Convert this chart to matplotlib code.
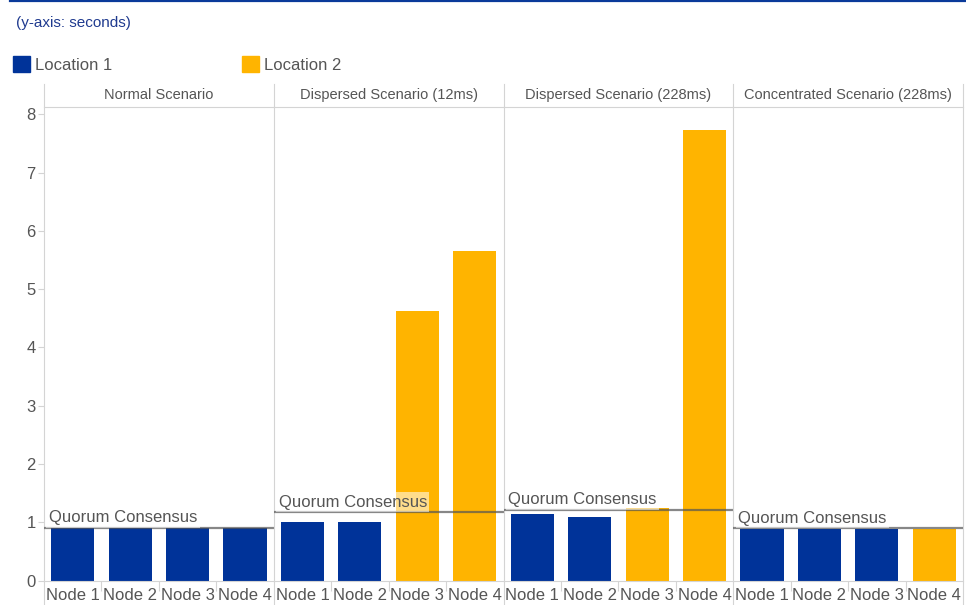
import matplotlib
matplotlib.use("Agg")
import matplotlib.pyplot as plt
from matplotlib.lines import Line2D
from matplotlib.patches import Rectangle

plt.rcParams['font.family'] = ['Liberation Sans', 'DejaVu Sans']

# data (seconds)
scenarios = ["Normal Scenario", "Dispersed Scenario (12ms)",
             "Dispersed Scenario (228ms)", "Concentrated Scenario (228ms)"]
nodes = ["Node 1", "Node 2", "Node 3", "Node 4"]
normal = [0.90, 0.90, 0.90, 0.90]
dispersed_12 = [1.00, 1.00, 4.63, 5.66]
dispersed_228 = [1.14, 1.10, 1.25, 7.73]
concentrated = [0.89, 0.89, 0.89, 0.89]
locations = [
    [1, 1, 1, 1],
    [1, 1, 2, 2],
    [1, 1, 2, 2],
    [1, 1, 1, 2],
]
quorum = [0.91, 1.17, 1.22, 0.90]
series = [normal, dispersed_12, dispersed_228, concentrated]

BLUE = "#003399"
ORANGE = "#FFB400"
GRID = "#d4d4d4"
TEXT = "#555555"
loc_colors = {1: BLUE, 2: ORANGE}

W, H = 966, 605
fig = plt.figure(figsize=(W / 100, H / 100), dpi=100)
fig.patch.set_facecolor("white")

# top rule + caption
fig.add_artist(Line2D([10 / W, 1], [1 - 1 / H, 1 - 1 / H], color="#0a3a9a",
                      lw=1.6, transform=fig.transFigure))
fig.text(16 / W, 1 - 23 / H, "(y-axis: seconds)", fontsize=11, color="#1f3a8f",
         va="center", ha="left")

# legend
for i, (lab, c) in enumerate([("Location 1", BLUE), ("Location 2", ORANGE)]):
    x0 = [13, 242][i]
    fig.add_artist(Rectangle((x0 / W, 1 - 72 / H), 17 / W, 16 / H, color=c,
                             transform=fig.transFigure))
    fig.text((x0 + 22) / W, 1 - 65 / H, lab, fontsize=12, color=TEXT,
             va="center", ha="left")

left, right = 44, 963
bottom, top = 580.7, 107
pw = (right - left) / 4
ymax = 8.125

for i, vals in enumerate(series):
    ax = fig.add_axes([(left + i * pw) / W, 1 - bottom / H, pw / W, (bottom - top) / H])
    xs = range(len(nodes))
    ax.bar(xs, vals, width=0.75, color=[loc_colors[l] for l in locations[i]], zorder=2)
    ax.set_xlim(-0.5, 3.5)
    ax.set_ylim(0, ymax)

    # quorum line and label
    ax.axhline(quorum[i], color="#555555", alpha=0.7, lw=1.6, zorder=3)
    ax.annotate("Quorum Consensus", xy=(0, quorum[i]), xycoords=("axes fraction", "data"),
                xytext=(3.5, 4), textcoords="offset points", fontsize=12, color=TEXT,
                ha="left", va="baseline", zorder=4,
                bbox=dict(boxstyle="square,pad=0.15", fc="white", ec="none", alpha=0.55))

    # header
    ax.annotate(scenarios[i], xy=(0.5, 1), xycoords="axes fraction",
                xytext=(0, 8.3), textcoords="offset points", ha="center", va="center",
                fontsize=10.5, color=TEXT)

    for s in ["left", "right"]:
        ax.spines[s].set_visible(False)
    ax.spines["top"].set_color(GRID)
    ax.spines["bottom"].set_color(GRID)
    ax.spines["top"].set_linewidth(0.8)
    ax.spines["bottom"].set_linewidth(0.8)

    # panel dividers
    ext_top = 1 + (top - 84) / (bottom - top)
    ax.axvline(-0.5, ymin=-0.1, ymax=ext_top, color=GRID, lw=0.8, clip_on=False)
    if i == 3:
        ax.axvline(3.5, ymin=-0.1, ymax=ext_top, color=GRID, lw=0.8, clip_on=False)

    ax.set_xticks(list(xs))
    ax.set_xticklabels(nodes, fontsize=12, color=TEXT)
    ax.set_xticks([0.5, 1.5, 2.5], minor=True)
    ax.tick_params(axis="x", which="major", length=0, pad=5.5)
    ax.tick_params(axis="x", which="minor", length=7, color=GRID, width=0.8)

    if i == 0:
        ax.set_yticks(range(0, 9))
        ax.tick_params(axis="y", length=4, color=GRID, labelsize=12,
                       labelcolor=TEXT, pad=2)
    else:
        ax.set_yticks([])

fig.savefig("out.png", dpi=100, facecolor="white")
